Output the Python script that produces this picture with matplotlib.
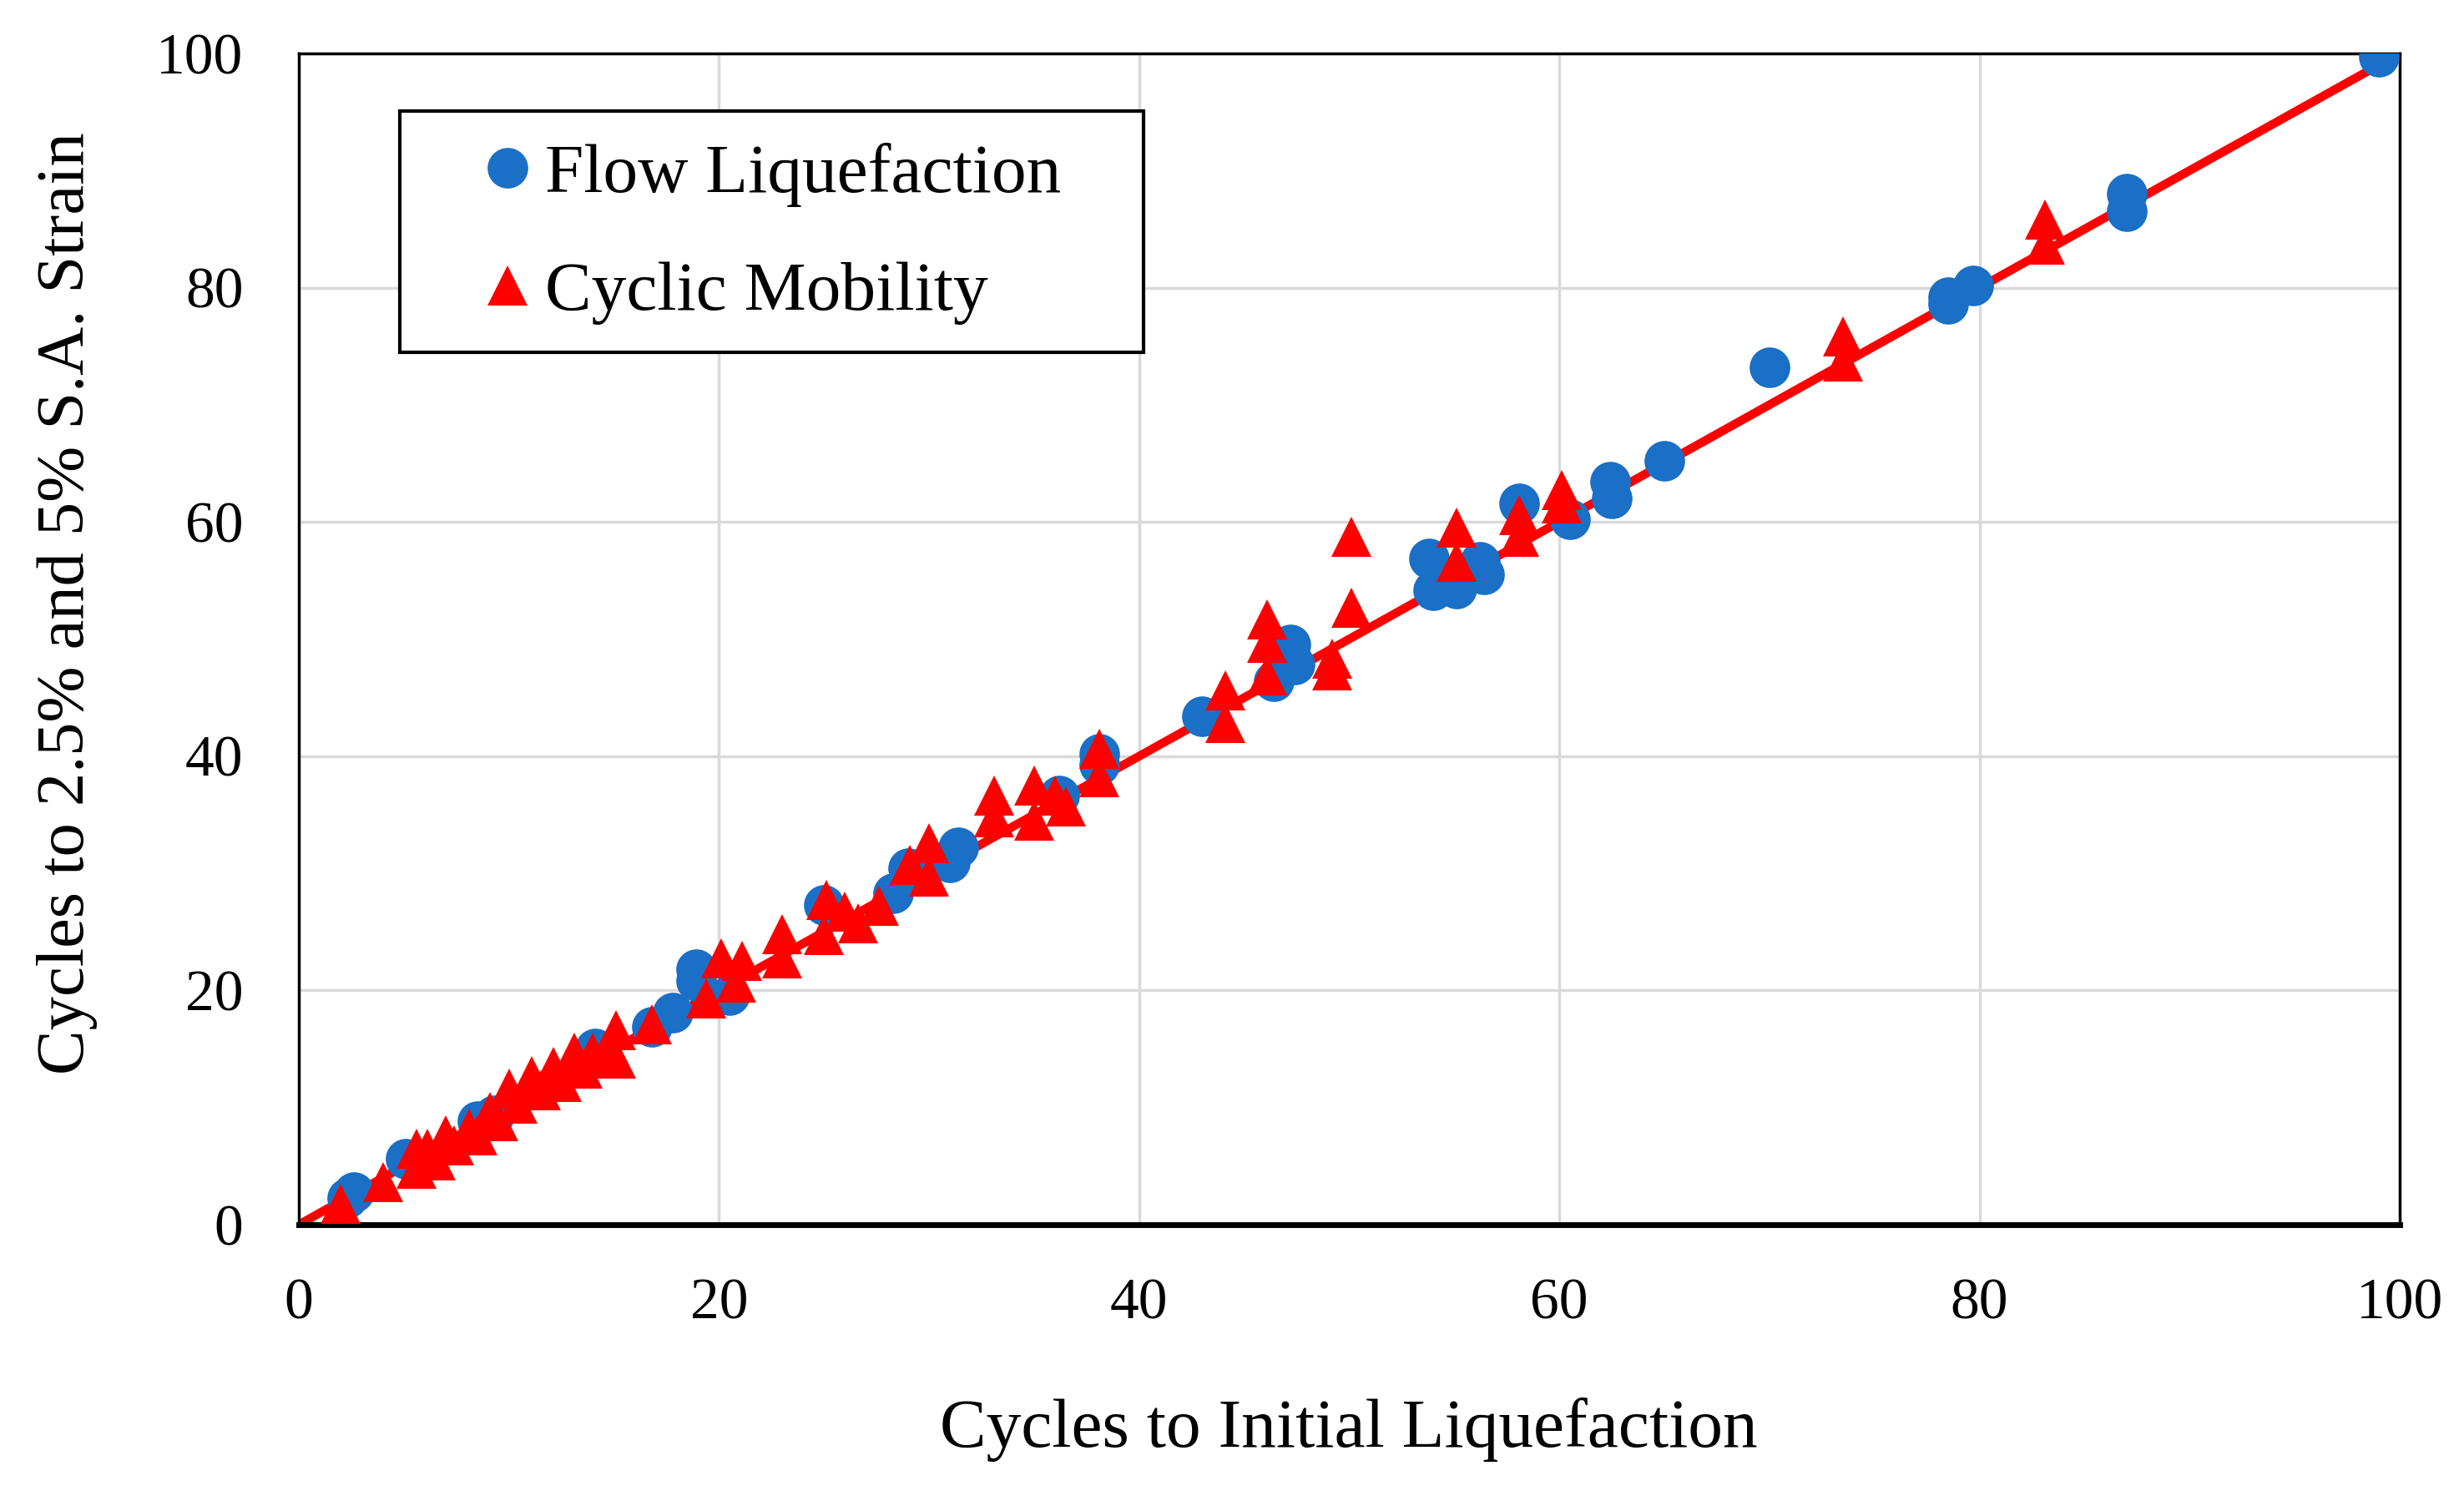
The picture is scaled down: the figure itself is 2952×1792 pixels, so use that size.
import matplotlib.pyplot as plt
from matplotlib.patches import Rectangle

# Flow Liquefaction (blue circles)
flow_x = [2.3, 2.6, 5.1, 8.5, 9.3, 14.1, 16.8, 17.8, 18.9, 18.9, 20.5, 25.0,
          28.3, 29.0, 31.0, 31.4, 36.2, 38.1, 38.1, 43.0, 46.4, 47.2, 47.4,
          53.8, 54.0, 55.1, 56.2, 56.4, 58.1, 60.5, 62.4, 62.5, 65.0, 70.0,
          78.5, 78.5, 79.7, 87.0, 87.0, 99.0]
flow_y = [2.3, 2.8, 5.6, 8.8, 9.3, 15.0, 16.9, 18.1, 21.8, 20.8, 19.6, 27.3,
          28.3, 30.4, 30.9, 32.2, 36.6, 40.2, 39.3, 43.4, 46.4, 49.5, 47.8,
          56.9, 54.2, 54.3, 56.6, 55.5, 61.6, 60.2, 63.4, 62.0, 65.2, 73.2,
          79.2, 78.6, 80.2, 88.0, 86.5, 99.7]

# Cyclic Mobility (red triangles)
cyc_x = [2.0, 4.0, 5.6, 5.6, 6.1, 6.5, 7.0, 7.4, 8.1, 8.5, 9.1, 9.5, 10.0,
         10.4, 11.1, 11.5, 12.1, 12.5, 13.1, 13.5, 14.0, 14.5, 15.1, 15.1,
         16.8, 19.4, 20.1, 20.8, 21.1, 23.0, 23.0, 25.1, 25.0, 26.0, 26.6,
         27.6, 29.1, 30.0, 30.0, 33.1, 33.1, 35.0, 35.0, 36.0, 36.5, 38.1,
         38.1, 44.1, 44.1, 46.1, 46.1, 46.1, 49.2, 49.2, 50.1, 50.1, 55.1,
         55.1, 58.1, 58.1, 60.1, 60.1, 73.5, 73.5, 83.1, 83.1]
cyc_y = [1.8, 3.6, 4.8, 6.5, 6.5, 5.5, 7.6, 6.8, 8.2, 7.6, 9.6, 8.8, 11.6,
         10.3, 12.7, 11.5, 13.5, 12.2, 14.7, 13.3, 14.7, 14.2, 16.6, 14.2,
         17.1, 19.3, 22.7, 20.7, 22.5, 24.8, 22.7, 27.7, 24.7, 26.7, 25.7,
         27.2, 30.7, 32.6, 29.7, 36.6, 34.8, 37.5, 34.5, 36.6, 35.7, 40.6,
         38.2, 45.6, 42.8, 51.7, 49.7, 46.9, 48.3, 47.3, 58.7, 52.7, 59.5,
         56.6, 60.6, 58.7, 62.7, 61.6, 75.8, 73.7, 85.8, 83.7]

# 1:1 line
line_x = [0, 100]
line_y = [0, 100]

ticks = [0, 20, 40, 60, 80, 100]

plt.rcParams['font.family'] = ['Liberation Serif', 'DejaVu Serif']

fig = plt.figure(figsize=(29.52, 17.92), dpi=100)
ax = fig.add_axes([0.1213, 0.1814, 0.8526, 0.7829])

ax.plot(line_x, line_y, color='#ff0000', lw=7.5, zorder=2, solid_capstyle='butt')
ax.plot(flow_x, flow_y, 'o', color='#1a6fc6', ms=35, mew=0, zorder=3,
        label='Flow Liquefaction')
ax.plot(cyc_x, cyc_y, '^', color='#ff0000', ms=35, mew=0, zorder=4,
        label='Cyclic Mobility')

ax.set_xlim(0, 100)
ax.set_ylim(0, 100)
ax.set_xticks(ticks)
ax.set_yticks(ticks)
ax.grid(True, color='#d9d9d9', lw=2.5, zorder=0)
ax.set_axisbelow(True)
ax.tick_params(length=0, labelsize=50)
ax.tick_params(axis='x', pad=46)
ax.tick_params(axis='y', pad=48)
for s in ['top', 'right', 'left']:
    ax.spines[s].set_linewidth(2.5)
ax.spines['bottom'].set_linewidth(5)

fig.text(0.5474, 0.0329, 'Cycles to Initial Liquefaction', fontsize=60,
         ha='center', va='baseline')
fig.text(0.0274, 0.5965, 'Cycles to 2.5% and 5% S.A. Strain', fontsize=58,
         rotation=90, ha='center', va='center')

# legend box
ax.add_patch(Rectangle((0.048, 0.745), 0.354, 0.206, transform=ax.transAxes,
                       facecolor='white', edgecolor='black', lw=3, zorder=5))
leg = ax.legend(loc='center left', bbox_to_anchor=(0.0826, 0.846),
                frameon=False, fontsize=60, borderpad=0, handlelength=1.0,
                handletextpad=0.05, labelspacing=0.78, borderaxespad=0)
leg.set_zorder(6)

fig.savefig('out.png', dpi=100)
